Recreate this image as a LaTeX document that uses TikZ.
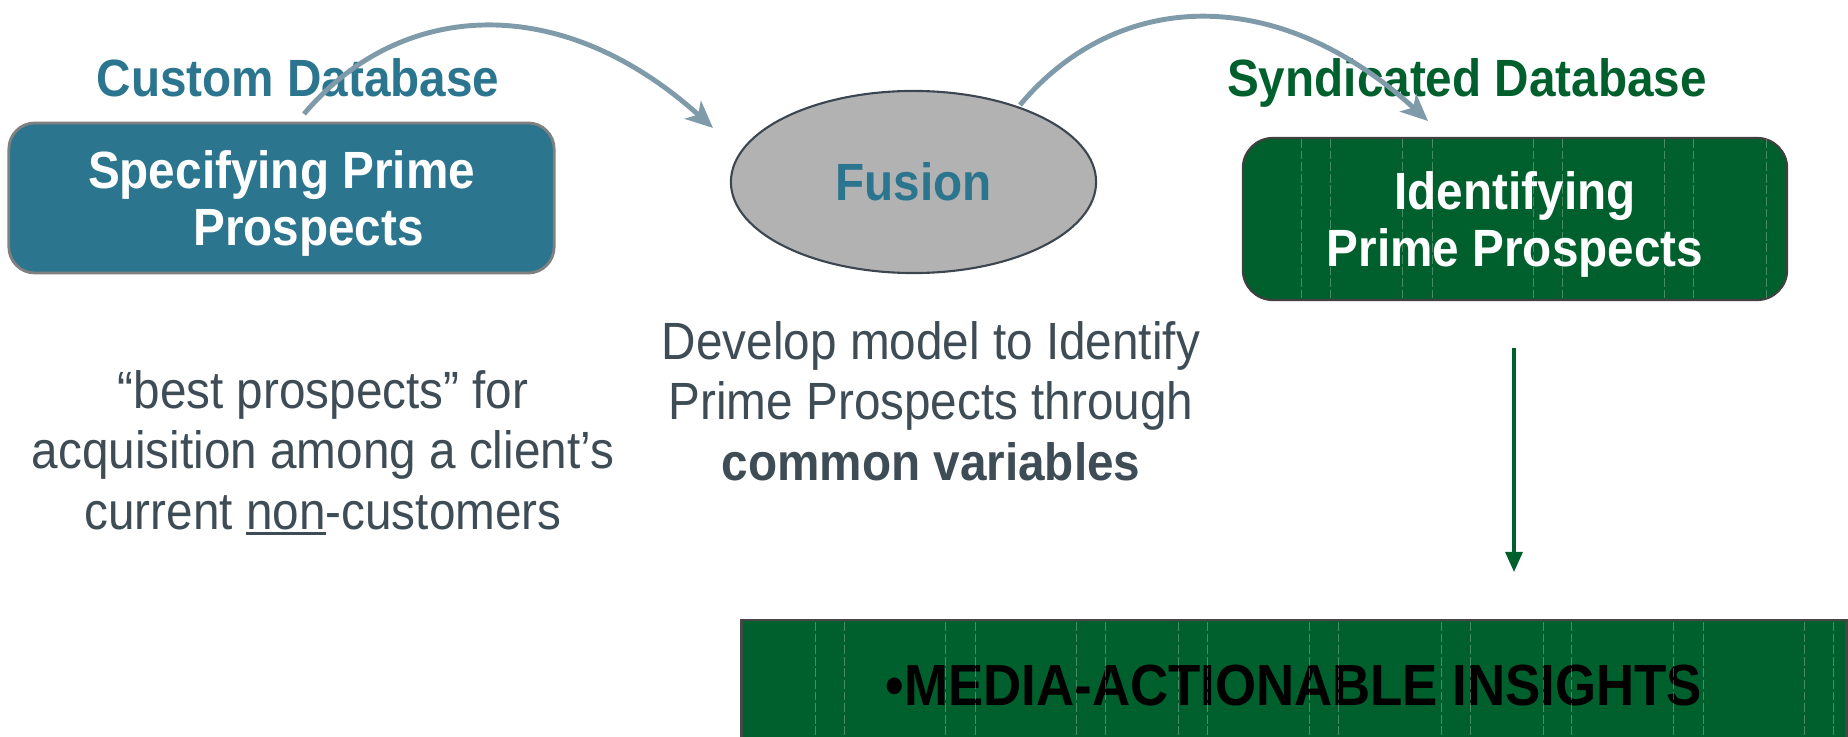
\documentclass[tikz,border=0pt]{standalone}
\usepackage{fontspec}
\setmainfont{Liberation Sans}[FakeStretch=0.91]
\usetikzlibrary{arrows.meta,shapes.geometric}

\definecolor{dbteal}{RGB}{43,117,143}
\definecolor{dbgreen}{RGB}{0,96,45}
\definecolor{flowgray}{RGB}{127,155,170}
\definecolor{textgray}{RGB}{62,76,86}
\definecolor{fusiongray}{RGB}{178,178,178}

\newcommand{\thickul}[1]{\setbox0=\hbox{#1}\rlap{\rule[-1.7pt]{\wd0}{0.9pt}}\box0}

\begin{document}
\begin{tikzpicture}[x=0.01cm,y=-0.01cm,
    head/.style={font=\fontsize{14.9}{16.4}\selectfont\bfseries,text depth=0pt,align=center},
    body/.style={font=\fontsize{14.9}{17.1}\selectfont,text=textgray,text depth=0pt,align=center},
    flow/.style={draw=flowgray,line width=1.4pt,-{Stealth[length=0.27cm,width=0.24cm,inset=0.07cm]}},
    down/.style={draw=dbgreen,line width=0.9pt,-{Triangle[length=0.2cm,width=0.17cm]}},
    dashline/.style={draw=white,opacity=0.28,line width=0.25pt,dash pattern=on 2.5pt off 0.8pt}]

      \useasboundingbox (0,0) rectangle (1848,737);

      \begin{scope}[every node/.style={head}]
        \node[text=dbteal] (custom) at (298,78) {Custom Database};
        \node[text=dbgreen] (synd) at (1467,78) {Syndicated Database};
        \node[rectangle,rounded corners=0.26cm,fill=dbteal,draw=gray,line width=0.8pt,
              minimum width=5.45cm,minimum height=1.5cm,text=white]
              (spec) at (281.5,198) {Specifying Prime\\\hspace*{0.54cm}Prospects};
        \node[ellipse,fill=fusiongray,draw={rgb,255:red,60;green,70;blue,80},line width=0.6pt,
              inner sep=0pt,minimum width=3.65cm,minimum height=1.82cm,text=dbteal]
              (fusion) at (913.5,182) {Fusion};
        \node[rectangle,rounded corners=0.3cm,fill=dbgreen,draw={rgb,255:red,64;green,64;blue,64},
              line width=0.6pt,minimum width=5.44cm,minimum height=1.62cm,text=white]
              (ident) at (1515,219) {Identifying\\Prime Prospects};
        \node[rectangle,fill=dbgreen,draw={rgb,255:red,70;green,70;blue,70},line width=0.8pt,
              minimum width=11.04cm,minimum height=1.3cm,text=black,
              font=\fontsize{16.5}{18}\selectfont\bfseries]
              (media) at (1294,685) {•MEDIA-ACTIONABLE INSIGHTS};
      \end{scope}

      \begin{scope}[every node/.style={body}]
        \node (develop) at (931,401) {Develop model to Identify\\Prime Prospects through\\\textbf{common variables}};
        \node (best) at (323,450) {“best prospects” for\\acquisition among a client’s\\current \thickul{non}-customers};
      \end{scope}

      \begin{scope}
        \clip[rounded corners=0.3cm] (ident.north west) rectangle (ident.south east);
        \foreach \x in {1301,1330,1402,1432,1533,1562,1664,1693,1766}
          \draw[dashline] (\x,139) -- (\x,298);
      \end{scope}
      \foreach \x in {815,844,945,975,1076,1105,1178,1207,1309,1338,1441,1470,1543,1571,1673,1703,1804,1833}
        \draw[dashline] (\x,622) -- (\x,737);

      \coordinate (c1) at (304,114);
      \coordinate (c2) at (713,128);
      \coordinate (c3) at (1020,105);
      \coordinate (c4) at (1428,121);
      \coordinate (g1) at (1514,348);
      \coordinate (g2) at (1514,572);

      \path[flow] (c1) .. controls (400,0) and (560,-10) .. (c2);
      \path[flow] (c3) .. controls (1116,-10) and (1276,-18) .. (c4);
      \path[down] (g1) -- (g2);

    \end{tikzpicture}
\end{document}
